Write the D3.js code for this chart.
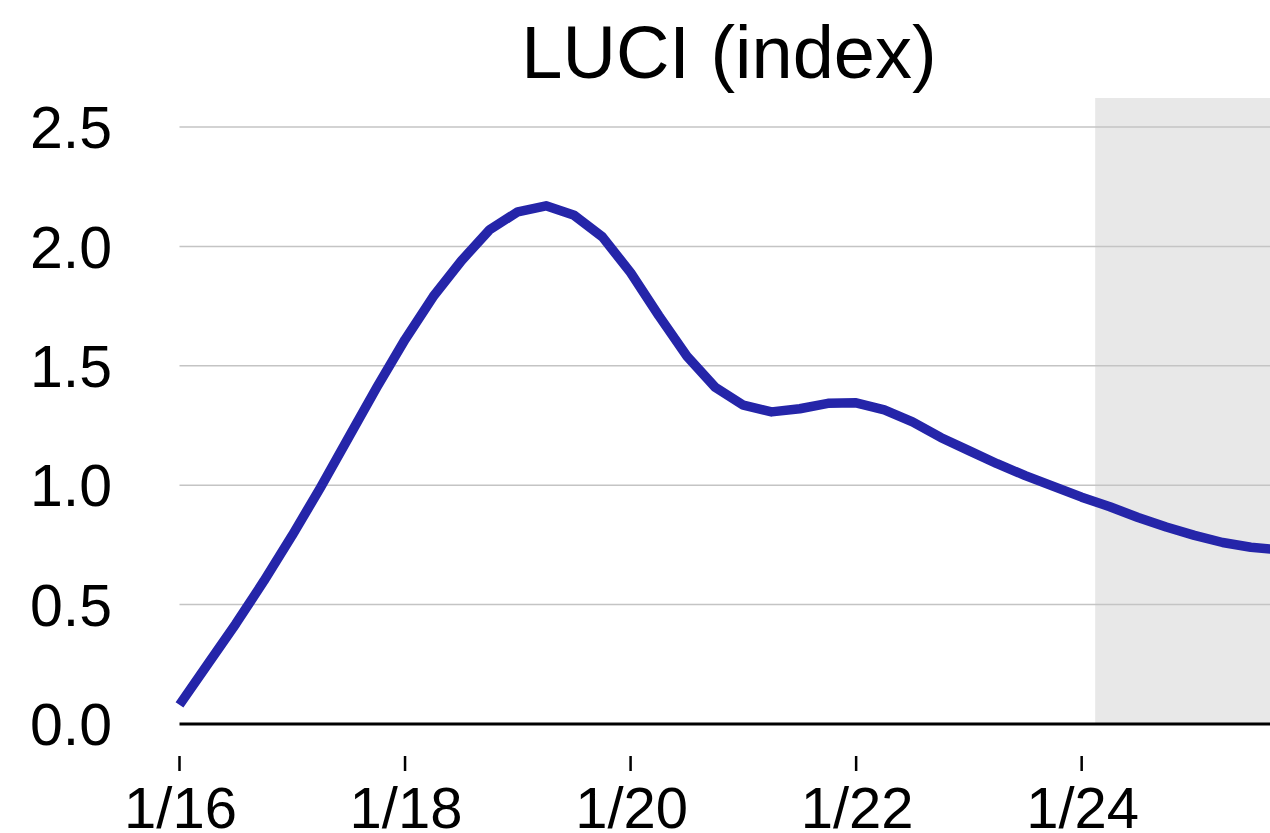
<!DOCTYPE html>
<html>
<head>
<meta charset="utf-8">
<script src="https://cdn.jsdelivr.net/npm/d3@7"></script>
<style>
  html, body { margin: 0; padding: 0; background: #fff; }
  svg { display: block; }
  text { font-family: "Liberation Sans", Arial, sans-serif; fill: #000; }
</style>
</head>
<body>
<script>
// quarterly LUCI values, starting Q1 2016
var startYear = 2016;
var luci = [0.08, 0.25, 0.42, 0.60, 0.79, 0.99, 1.20, 1.41,
            1.61, 1.79, 1.94, 2.07, 2.145, 2.17, 2.13, 2.04,
            1.89, 1.71, 1.54, 1.41, 1.335, 1.307, 1.32, 1.343,
            1.345, 1.315, 1.265, 1.20, 1.145, 1.09, 1.04, 0.995,
            0.95, 0.91, 0.865, 0.825, 0.79, 0.76, 0.74, 0.73];
var yTicks = [0, 0.5, 1.0, 1.5, 2.0, 2.5];
var xTicks = [2016, 2018, 2020, 2022, 2024];
var xTickLabels = ['1/16', '1/18', '1/20', '1/22', '1/24'];
var shadeStart = 2024.12;
var title = 'LUCI (index)';

var width = 1270, height = 833;
var plotLeft = 179.5, plotRight = 1270, plotTop = 98, plotBottom = 724;

var svg = d3.select('body').append('svg').attr('width', width).attr('height', height);

var x = d3.scaleLinear().domain([2016, 2025.67]).range([plotLeft, plotRight]);
var y = d3.scaleLinear().domain([0, 2.5]).range([plotBottom, 127]);

// shaded (forecast) area
svg.append('rect')
   .attr('x', x(shadeStart))
   .attr('y', plotTop)
   .attr('width', plotRight - x(shadeStart))
   .attr('height', plotBottom - plotTop)
   .attr('fill', '#e8e8e8');

// gridlines
svg.selectAll('line.grid')
   .data(yTicks.slice(1))
   .enter()
   .append('line')
   .attr('class', 'grid')
   .attr('x1', plotLeft).attr('x2', plotRight)
   .attr('y1', function (d) { return y(d); })
   .attr('y2', function (d) { return y(d); })
   .attr('stroke', '#c4c4c4')
   .attr('stroke-width', 1.5);

// y labels
svg.selectAll('text.ylab')
   .data(yTicks)
   .enter()
   .append('text')
   .attr('class', 'ylab')
   .attr('x', 112)
   .attr('y', function (d) { return y(d); })
   .attr('dy', '0.36em')
   .attr('text-anchor', 'end')
   .style('font-size', '59px')
   .text(function (d) { return d3.format('.1f')(d); });

// clip the line to the plot
svg.append('clipPath').attr('id', 'plot')
   .append('rect').attr('x', plotLeft - 10).attr('y', 0).attr('width', plotRight - plotLeft + 10).attr('height', plotBottom);

var line = d3.line()
   .x(function (d, i) { return x(startYear + i / 4); })
   .y(function (d) { return y(d); });

svg.append('path')
   .datum(luci)
   .attr('d', line)
   .attr('clip-path', 'url(#plot)')
   .attr('fill', 'none')
   .attr('stroke', '#2525a9')
   .attr('stroke-width', 9.5)
   .attr('stroke-linejoin', 'round');

// x axis baseline
svg.append('line')
   .attr('x1', plotLeft).attr('x2', plotRight)
   .attr('y1', plotBottom).attr('y2', plotBottom)
   .attr('stroke', '#000')
   .attr('stroke-width', 3);

// ticks (detached from the baseline) and labels
svg.selectAll('line.xtick')
   .data(xTicks)
   .enter()
   .append('line')
   .attr('class', 'xtick')
   .attr('x1', function (d) { return x(d); })
   .attr('x2', function (d) { return x(d); })
   .attr('y1', 756).attr('y2', 771)
   .attr('stroke', '#000')
   .attr('stroke-width', 2.5);

svg.selectAll('text.xlab')
   .data(xTicks)
   .enter()
   .append('text')
   .attr('class', 'xlab')
   .attr('x', function (d) { return x(d) + 1; })
   .attr('y', 828)
   .attr('text-anchor', 'middle')
   .style('font-size', '58px')
   .text(function (d, i) { return xTickLabels[i]; });

svg.append('text')
   .attr('x', 729)
   .attr('y', 78)
   .attr('text-anchor', 'middle')
   .style('font-size', '74px')
   .text(title);
</script>
</body>
</html>
